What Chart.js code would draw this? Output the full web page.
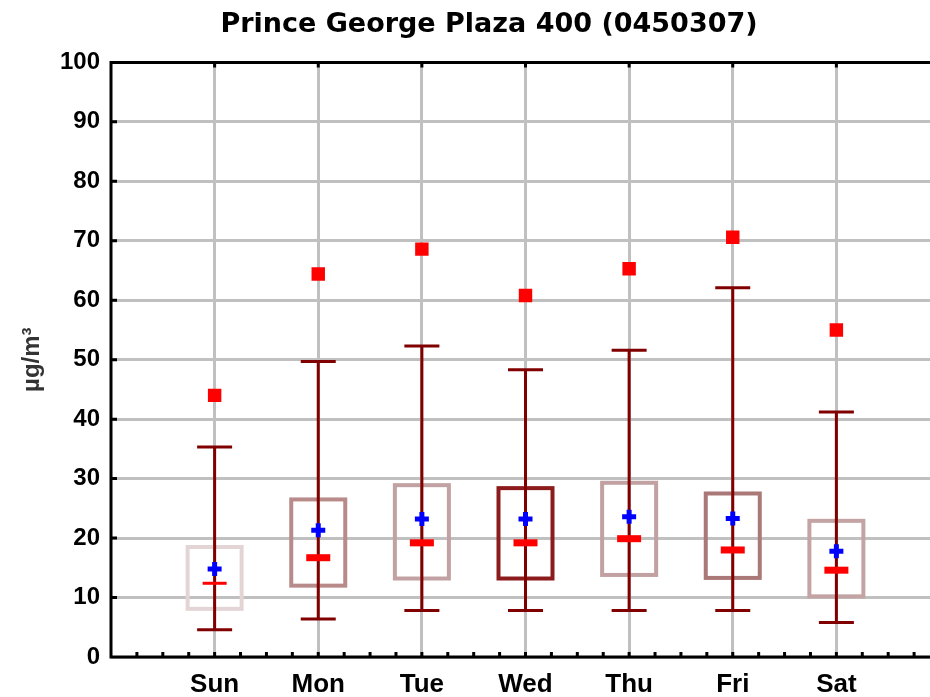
<!DOCTYPE html>
<html>
<head>
<meta charset="utf-8">
<title>Prince George Plaza 400 (0450307)</title>
<script src="https://cdn.jsdelivr.net/npm/chart.js@4.4.1/dist/chart.umd.min.js"></script>
<style>
    html, body { margin: 0; padding: 0; background: #fff; overflow: hidden; }
    #chartWrap { width: 978px; height: 697px; }
</style>
</head>
<body>
<div id="chartWrap"><canvas id="boxChart" width="978" height="697"></canvas></div>
<script>
// values, in µg/m³
const days = ['Sun', 'Mon', 'Tue', 'Wed', 'Thu', 'Fri', 'Sat'];
const whiskerLow = [4.6, 6.4, 7.8, 7.8, 7.8, 7.8, 5.8];
const boxLow = [8.1, 12.0, 13.2, 13.2, 13.8, 13.3, 10.2];
const medians = [12.4, 16.7, 19.2, 19.2, 19.9, 18.0, 14.6];
const means = [14.8, 21.3, 23.2, 23.2, 23.6, 23.3, 17.8];
const boxHigh = [18.5, 26.5, 28.9, 28.4, 29.3, 27.5, 22.9];
const whiskerHigh = [35.3, 49.7, 52.3, 48.3, 51.6, 62.1, 41.2];
const maxima = [44.0, 64.4, 68.6, 60.8, 65.3, 70.6, 55.0];
const yTicks = [0, 10, 20, 30, 40, 50, 60, 70, 80, 90, 100];

// look of each box outline and median bar
const boxColors = ['#e3d5d5', '#b98a8a', '#c1a1a1', '#8c1c1c', '#c1a1a1', '#ab7878', '#c3a3a3'];
const medianThickness = [3, 7, 7, 7, 7, 7, 7];
const gridColor = '#c0c0c0';
const whiskerColor = '#800000';

const isDayTick = (value) => Number.isInteger(value) && value >= 1 && value <= days.length;

const boxPlotPlugin = {
    id: 'boxPlot',
    beforeDatasetsDraw(chart) {
        const { ctx, chartArea: area, scales: { x, y } } = chart;
        ctx.save();
        ctx.lineCap = 'butt';

        // boxes
        ctx.lineWidth = 4;
        days.forEach((day, i) => {
            const cx = x.getPixelForValue(i + 1);
            const top = y.getPixelForValue(boxHigh[i]);
            const bottom = y.getPixelForValue(boxLow[i]);
            ctx.strokeStyle = boxColors[i];
            ctx.strokeRect(cx - 27, top, 54, bottom - top);
        });

        // whiskers with caps
        ctx.strokeStyle = whiskerColor;
        ctx.lineWidth = 3;
        days.forEach((day, i) => {
            const cx = x.getPixelForValue(i + 1);
            const hi = y.getPixelForValue(whiskerHigh[i]);
            const lo = y.getPixelForValue(whiskerLow[i]);
            ctx.beginPath();
            ctx.moveTo(cx, hi);
            ctx.lineTo(cx, lo);
            ctx.moveTo(cx - 17.5, hi);
            ctx.lineTo(cx + 17.5, hi);
            ctx.moveTo(cx - 17.5, lo);
            ctx.lineTo(cx + 17.5, lo);
            ctx.stroke();
        });

        // medians
        ctx.fillStyle = '#ff0000';
        days.forEach((day, i) => {
            const cx = x.getPixelForValue(i + 1);
            const my = y.getPixelForValue(medians[i]);
            const h = medianThickness[i];
            ctx.fillRect(cx - 12, my - h / 2, 24, h);
        });

        // frame
        ctx.strokeStyle = '#000';
        ctx.lineWidth = 3;
        ctx.beginPath();
        ctx.moveTo(area.left, area.bottom);
        ctx.lineTo(area.left, area.top);
        ctx.lineTo(area.right, area.top);
        ctx.moveTo(area.left - 1.5, area.bottom);
        ctx.lineTo(area.right, area.bottom);
        ctx.stroke();

        // inward tick marks
        ctx.beginPath();
        x.ticks.forEach((tick) => {
            if (tick.value <= 0 || tick.value >= 8) {
                return;
            }
            const px = x.getPixelForValue(tick.value);
            ctx.moveTo(px, area.bottom);
            ctx.lineTo(px, area.bottom - 5);
            if (isDayTick(tick.value)) {
                ctx.moveTo(px, area.top);
                ctx.lineTo(px, area.top + 5);
            }
        });
        y.ticks.forEach((tick) => {
            if (tick.value <= 0 || tick.value >= 100) {
                return;
            }
            const py = y.getPixelForValue(tick.value);
            ctx.moveTo(area.left, py);
            ctx.lineTo(area.left + 6, py);
        });
        ctx.stroke();
        ctx.restore();
    },
};

new Chart(document.getElementById('boxChart'), {
    type: 'scatter',
    data: {
        datasets: [
            {
                label: 'Mean',
                data: means.map((value, i) => ({ x: i + 1, y: value })),
                pointStyle: 'cross',
                pointRadius: 7,
                borderWidth: 5,
                borderColor: '#0000ff',
                backgroundColor: '#0000ff',
            },
            {
                label: 'Max',
                data: maxima.map((value, i) => ({ x: i + 1, y: value })),
                pointStyle: 'rect',
                pointRadius: 9.5,
                borderWidth: 0,
                backgroundColor: '#ff0000',
                borderColor: '#ff0000',
            },
        ],
    },
    options: {
        responsive: false,
        animation: false,
        layout: { padding: 0 },
        plugins: {
            legend: { display: false },
            tooltip: { enabled: false },
            title: {
                display: true,
                text: 'Prince George Plaza 400 (0450307)',
                color: '#000',
                font: { family: 'DejaVu Sans', size: 27, weight: 'bold' },
                padding: { top: 9, bottom: 21 },
            },
        },
        scales: {
            x: {
                type: 'linear',
                min: 0,
                max: 8,
                afterFit(scale) {
                    scale.height = 40;
                },
                border: { display: false },
                grid: {
                    drawTicks: false,
                    lineWidth: 3,
                    color: (c) => (c.tick && isDayTick(c.tick.value) ? gridColor : 'rgba(0,0,0,0)'),
                },
                ticks: {
                    stepSize: 0.25,
                    autoSkip: false,
                    maxRotation: 0,
                    padding: 12,
                    color: '#000',
                    font: { family: 'Liberation Sans', size: 26, weight: 'bold' },
                    callback: (value) => (isDayTick(value) ? days[value - 1] : ''),
                },
            },
            y: {
                min: yTicks[0],
                max: yTicks[yTicks.length - 1],
                afterFit(scale) {
                    scale.width = 111;
                },
                border: { display: false },
                grid: {
                    drawTicks: false,
                    lineWidth: 3,
                    color: gridColor,
                },
                ticks: {
                    stepSize: 10,
                    padding: 11,
                    color: '#000',
                    font: { family: 'Liberation Sans', size: 24, weight: 'bold' },
                },
                title: {
                    display: true,
                    text: 'µg/m³',
                    color: '#333',
                    font: { family: 'Liberation Sans', size: 24, weight: 'bold' },
                    padding: { top: 18, bottom: 0 },
                },
            },
            // empty strip on the right, past the cropped edge of the frame
            yRight: {
                position: 'right',
                min: yTicks[0],
                max: yTicks[yTicks.length - 1],
                afterFit(scale) {
                    scale.width = 38;
                },
                border: { display: false },
                grid: { display: false },
                ticks: { display: false },
            },
        },
    },
    plugins: [boxPlotPlugin],
});
</script>
</body>
</html>
